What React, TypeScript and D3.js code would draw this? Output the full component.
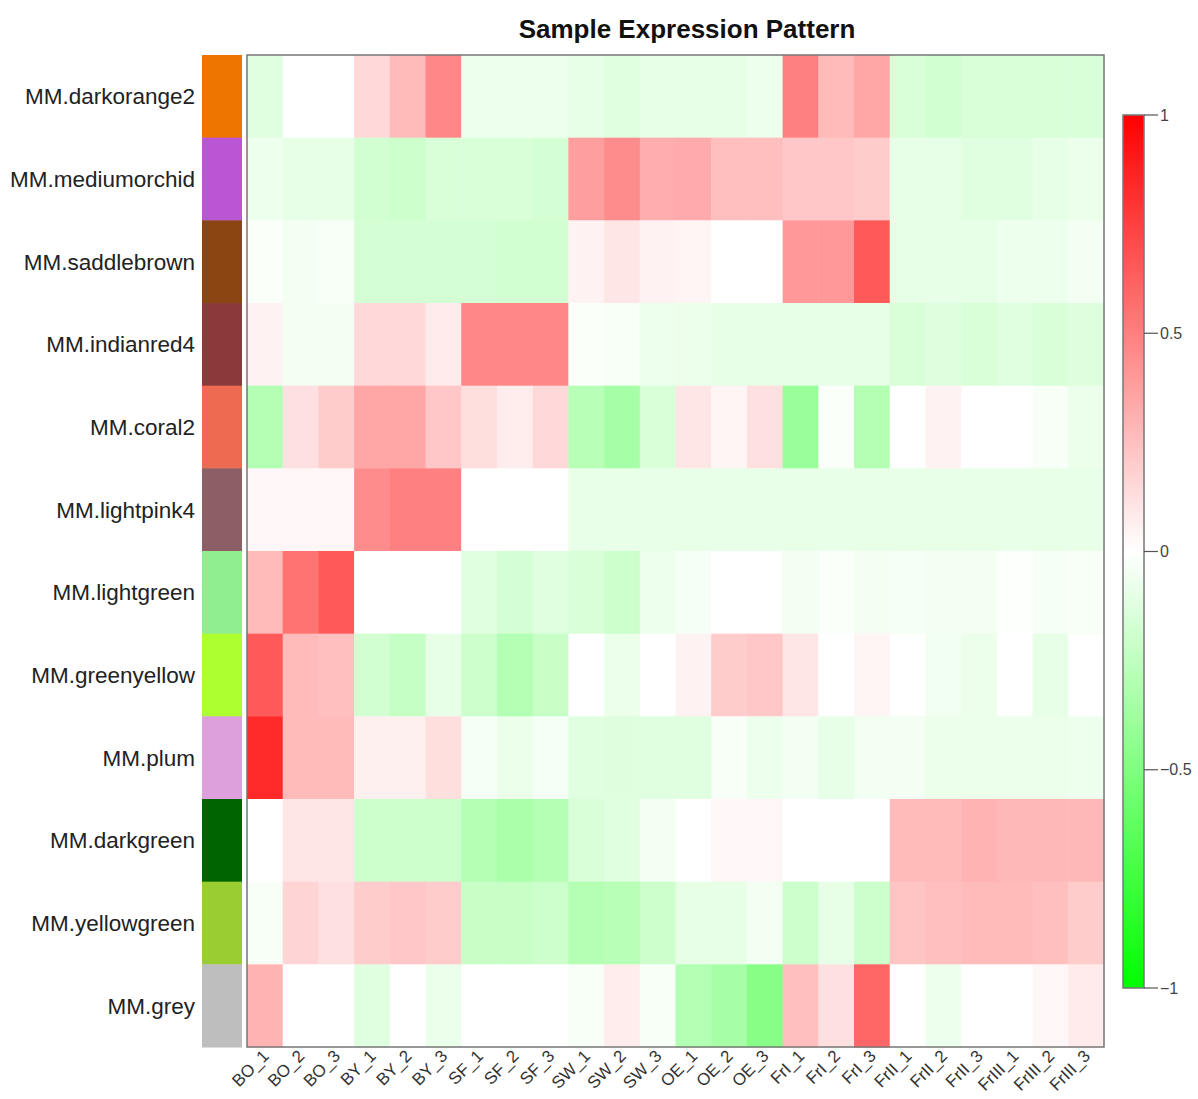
import React from "react";
import * as d3 from "d3";

const modules = [
  "MM.darkorange2", "MM.mediumorchid", "MM.saddlebrown", "MM.indianred4",
  "MM.coral2", "MM.lightpink4", "MM.lightgreen", "MM.greenyellow",
  "MM.plum", "MM.darkgreen", "MM.yellowgreen", "MM.grey",
];

const moduleColors = [
  "#EE7600", "#BA55D3", "#8B4513", "#8B3A3A", "#EE6A50", "#8B5F65",
  "#90EE90", "#ADFF2F", "#DDA0DD", "#006400", "#9ACD32", "#BEBEBE",
];

const samples = [
  "BO_1", "BO_2", "BO_3", "BY_1", "BY_2", "BY_3", "SF_1", "SF_2", "SF_3",
  "SW_1", "SW_2", "SW_3", "OE_1", "OE_2", "OE_3", "FrI_1", "FrI_2", "FrI_3",
  "FrII_1", "FrII_2", "FrII_3", "FrIII_1", "FrIII_2", "FrIII_3",
];

// one row per module, one value per sample
const values: number[][] = [
  [-0.12, 0, 0, 0.15, 0.27, 0.47, -0.07, -0.07, -0.07, -0.1, -0.12, -0.1, -0.1, -0.1, -0.07, 0.5, 0.27, 0.35, -0.15, -0.18, -0.15, -0.15, -0.15, -0.15],
  [-0.07, -0.1, -0.1, -0.18, -0.2, -0.15, -0.15, -0.15, -0.17, 0.38, 0.45, 0.32, 0.33, 0.25, 0.25, 0.22, 0.22, 0.2, -0.1, -0.1, -0.12, -0.12, -0.1, -0.08],
  [-0.02, -0.05, -0.03, -0.17, -0.17, -0.17, -0.17, -0.18, -0.18, 0.05, 0.1, 0.05, 0.04, 0, 0, 0.4, 0.4, 0.65, -0.1, -0.1, -0.1, -0.07, -0.07, -0.05],
  [0.05, -0.05, -0.05, 0.15, 0.15, 0.08, 0.47, 0.47, 0.47, -0.02, -0.03, -0.07, -0.08, -0.1, -0.1, -0.1, -0.1, -0.1, -0.15, -0.13, -0.15, -0.12, -0.15, -0.13],
  [-0.3, 0.12, 0.2, 0.35, 0.35, 0.22, 0.13, 0.07, 0.15, -0.28, -0.35, -0.15, 0.1, 0.04, 0.12, -0.4, -0.02, -0.3, 0, 0.05, 0, 0, -0.03, -0.08],
  [0.03, 0.03, 0.03, 0.45, 0.5, 0.5, 0, 0, 0, -0.09, -0.09, -0.09, -0.09, -0.09, -0.09, -0.09, -0.09, -0.09, -0.09, -0.09, -0.09, -0.09, -0.09, -0.09],
  [0.27, 0.55, 0.65, 0, 0, 0, -0.12, -0.17, -0.12, -0.15, -0.2, -0.07, -0.04, 0, 0, -0.05, -0.02, -0.05, -0.04, -0.05, -0.05, -0.01, -0.04, -0.03],
  [0.65, 0.27, 0.25, -0.18, -0.23, -0.1, -0.2, -0.3, -0.22, 0, -0.08, 0, 0.05, 0.2, 0.22, 0.1, 0, 0.04, 0, -0.06, -0.08, 0, -0.1, 0],
  [0.84, 0.27, 0.27, 0.06, 0.06, 0.13, -0.04, -0.08, -0.04, -0.12, -0.13, -0.12, -0.12, -0.03, -0.07, -0.05, -0.1, -0.05, -0.05, -0.08, -0.08, -0.08, -0.08, -0.07],
  [0, 0.1, 0.1, -0.2, -0.2, -0.2, -0.3, -0.33, -0.3, -0.15, -0.12, -0.05, 0, 0.03, 0.03, 0, 0, 0, 0.27, 0.27, 0.3, 0.28, 0.28, 0.28],
  [-0.03, 0.17, 0.12, 0.2, 0.22, 0.2, -0.22, -0.22, -0.2, -0.3, -0.28, -0.2, -0.1, -0.1, -0.05, -0.2, -0.1, -0.2, 0.23, 0.25, 0.27, 0.27, 0.25, 0.2],
  [0.3, 0, 0, -0.12, 0, -0.08, 0, 0, 0, -0.03, 0.07, -0.03, -0.3, -0.35, -0.47, 0.25, 0.12, 0.6, 0, -0.07, 0, 0, 0.03, 0.08],
];

const legendTicks = [1, 0.5, 0, -0.5, -1];

const W = 1198;
const H = 1099;
const font = "'Liberation Sans', Arial, sans-serif";

export default function App() {
  const x = d3.scaleBand<string>().domain(samples).range([247, 1104]);
  const y = d3.scaleBand<string>().domain(modules).range([55, 1047]);
  const color = d3
    .scaleLinear<string>()
    .domain([-1, 0, 1])
    .range(["#00FF00", "#FFFFFF", "#FF0000"]);
  const ly = d3.scaleLinear().domain([1, -1]).range([115, 988]);

  return (
    <svg
      width={W}
      height={H}
      style={{ position: "absolute", left: 0, top: 0, background: "#fff" }}
      fontFamily={font}
    >
      <defs>
        <linearGradient id="legendGrad" x1="0" y1="0" x2="0" y2="1">
          <stop offset="0%" stopColor={color(1)} />
          <stop offset="50%" stopColor={color(0)} />
          <stop offset="100%" stopColor={color(-1)} />
        </linearGradient>
      </defs>

      <text x={687} y={38} textAnchor="middle" fontSize={26} fontWeight="bold" fill="#111">
        Sample Expression Pattern
      </text>

      {/* heatmap cells */}
      {values.map((row, i) =>
        row.map((v, j) => (
          <rect
            key={`${i}-${j}`}
            x={x(samples[j])}
            y={y(modules[i])}
            width={x.bandwidth() + 0.5}
            height={y.bandwidth() + 0.5}
            fill={color(v)}
          />
        ))
      )}
      <rect x={247} y={55} width={1104 - 247} height={1047 - 55} fill="none" stroke="#777" strokeWidth={1.5} />

      {/* module colour bar + labels */}
      {modules.map((m, i) => (
        <g key={m}>
          <rect x={202} y={y(m)} width={40} height={y.bandwidth() + 0.5} fill={moduleColors[i]} />
          <text
            x={195}
            y={(y(m) as number) + y.bandwidth() / 2}
            dy="0.35em"
            textAnchor="end"
            fontSize={22.5}
            fill="#222"
          >
            {m}
          </text>
        </g>
      ))}

      {/* sample labels */}
      {samples.map((s) => {
        const cx = (x(s) as number) + x.bandwidth() / 2;
        return (
          <text
            key={s}
            transform={`translate(${cx + 5},${1057}) rotate(-45)`}
            textAnchor="end"
            fontSize={17}
            fill="#333"
          >
            {s}
          </text>
        );
      })}

      {/* legend */}
      <rect x={1123} y={115} width={21} height={988 - 115} fill="url(#legendGrad)" stroke="#777" strokeWidth={1.5} />
      {legendTicks.map((t) => (
        <g key={t}>
          <line x1={1144} x2={1158} y1={ly(t)} y2={ly(t)} stroke="#555" strokeWidth={1.2} />
          <text x={1160} y={ly(t)} dy="0.35em" fontSize={16} fill="#444">
            {t === 0 ? "0" : d3.format("")(t).replace("-", "\u2212")}
          </text>
        </g>
      ))}
    </svg>
  );
}
